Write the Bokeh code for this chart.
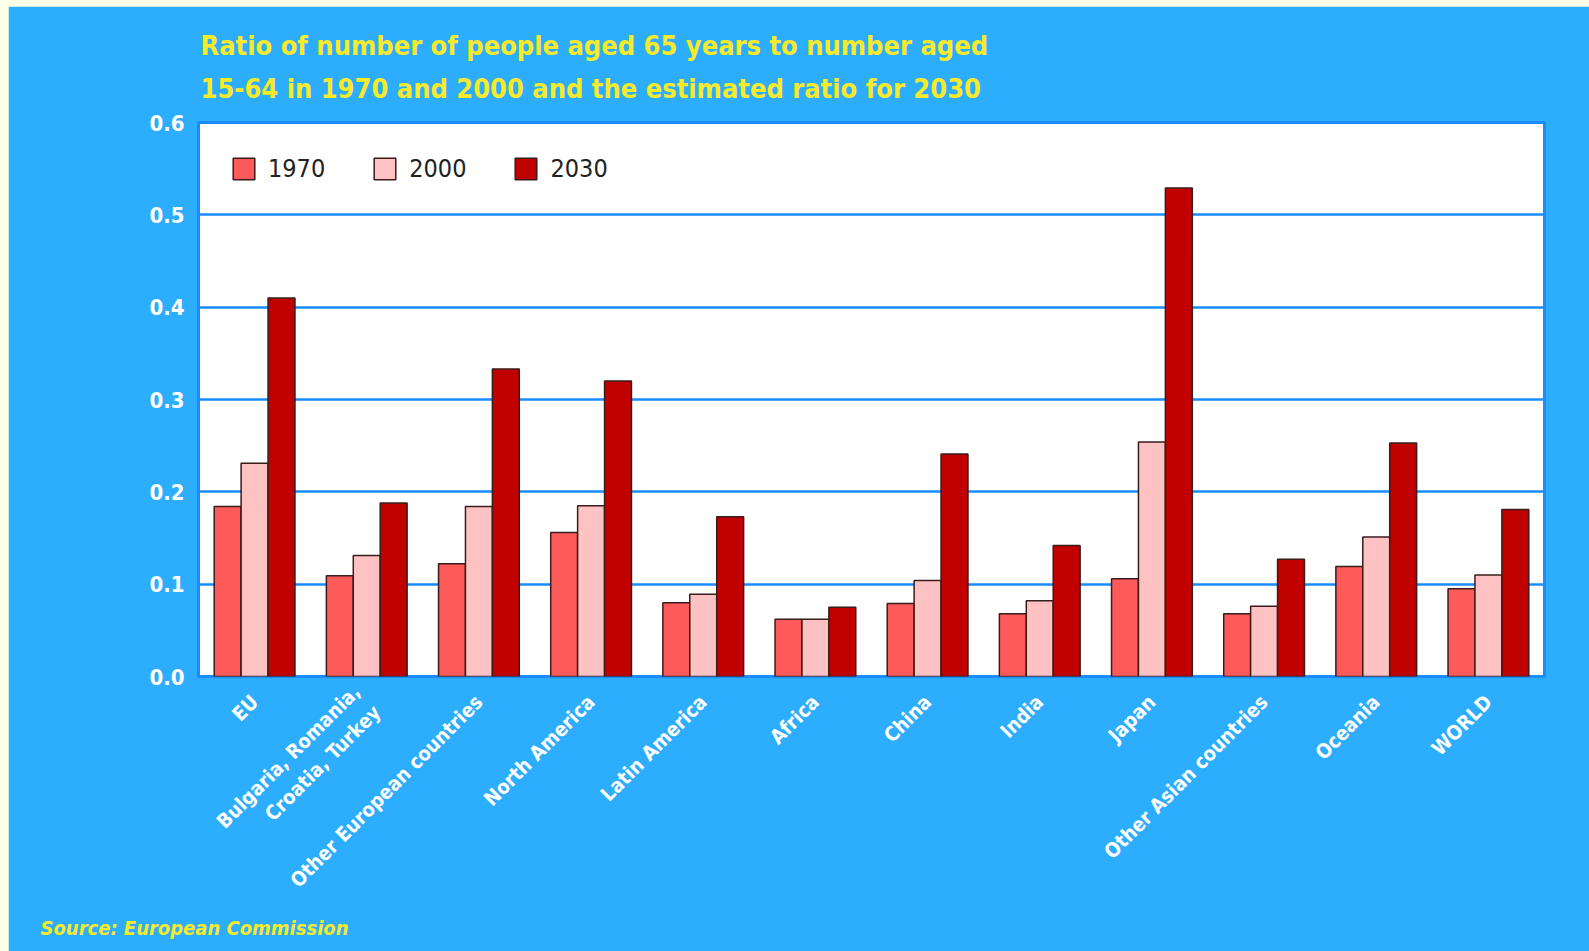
from math import pi

from bokeh.embed import file_html
from bokeh.layouts import column
from bokeh.models import (ColumnDataSource, FactorRange, FixedTicker, Legend,
                          LegendItem, NumeralTickFormatter, Range1d, Title)
from bokeh.plotting import figure
from bokeh.resources import INLINE
from bokeh.transform import dodge

# --- data -----------------------------------------------------------------
regions = [
    "EU",
    "Bulgaria, Romania,\nCroatia, Turkey",
    "Other European countries",
    "North America",
    "Latin America",
    "Africa",
    "China",
    "India",
    "Japan",
    "Other Asian countries",
    "Oceania",
    "WORLD",
]
ratio_1970 = [0.184, 0.109, 0.122, 0.156, 0.080, 0.062, 0.079, 0.068, 0.106, 0.068, 0.119, 0.095]
ratio_2000 = [0.231, 0.131, 0.184, 0.185, 0.089, 0.062, 0.104, 0.082, 0.254, 0.076, 0.151, 0.110]
ratio_2030 = [0.410, 0.188, 0.333, 0.320, 0.173, 0.075, 0.241, 0.142, 0.529, 0.127, 0.253, 0.181]
years = ["1970", "2000", "2030"]
y_ticks = [0.0, 0.1, 0.2, 0.3, 0.4, 0.5, 0.6]

title_text = ("Ratio of number of people aged 65 years to number aged\n"
              "15-64 in 1970 and 2000 and the estimated ratio for 2030")
source_text = "Source: European Commission"

# --- style ----------------------------------------------------------------
BG_BLUE = "#2DADFD"
GRID_BLUE = "#1A8CFF"
YELLOW = "#F7EA2A"
PAGE = "#FFFFE8"
NARROW = "DejaVu Sans Condensed"
BAR_COLORS = ["#FF5A5A", "#FFC2C2", "#C10000"]
BAR_EDGE = "#3A1C1C"

src = ColumnDataSource(dict(region=regions, r1970=ratio_1970, r2000=ratio_2000, r2030=ratio_2030))

p = figure(
    width=1581, height=945,
    x_range=FactorRange(*regions),
    y_range=Range1d(0, 0.6),
    output_backend="svg", toolbar_location=None,
    min_border_left=190, min_border_right=45,
    min_border_top=116, min_border_bottom=275,
)
p.background_fill_color = "white"
p.border_fill_color = BG_BLUE
p.outline_line_color = GRID_BLUE
p.outline_line_width = 3

# title
p.title.text = title_text
p.title.text_color = YELLOW
p.title.text_font = NARROW
p.title.text_font_style = "bold"
p.title.text_font_size = "27px"
p.title.text_line_height = 1.4
p.title.align = "left"
p.title.offset = 2
p.title.standoff = 37

# grouped bars
bar_w = 0.24
renderers = []
for i, (col, color) in enumerate(zip(["r1970", "r2000", "r2030"], BAR_COLORS)):
    r = p.vbar(x=dodge("region", (i - 1) * bar_w, range=p.x_range), top=col, bottom=0,
               width=bar_w, source=src, fill_color=color,
               line_color=BAR_EDGE, line_width=1.5)
    renderers.append(r)

# axes
p.yaxis.ticker = FixedTicker(ticks=y_ticks)
p.yaxis.formatter = NumeralTickFormatter(format="0.0")
for ax in (p.xaxis[0], p.yaxis[0]):
    ax.axis_line_color = None
    ax.major_tick_line_color = None
    ax.minor_tick_line_color = None
    ax.major_label_text_color = "white"
    ax.major_label_text_font = NARROW
    ax.major_label_text_font_style = "bold"
p.yaxis.major_label_text_font_size = "22px"
p.yaxis.major_label_standoff = 8
p.xaxis.major_label_text_font_size = "20px"
p.xaxis.major_label_orientation = pi / 4
p.xaxis.major_label_standoff = 16

# grid
p.xgrid.grid_line_color = None
p.ygrid.ticker = FixedTicker(ticks=y_ticks)
p.ygrid.grid_line_color = GRID_BLUE
p.ygrid.grid_line_width = 2.5

# legend
legend = Legend(
    items=[LegendItem(label=y, renderers=[r]) for y, r in zip(years, renderers)],
    orientation="horizontal", location="top_left",
    margin=32, padding=0, spacing=46,
    glyph_width=27, glyph_height=27, label_standoff=11,
    label_text_font=NARROW, label_text_font_size="25px", label_text_color="#222222",
    border_line_color=None, background_fill_alpha=0,
)
p.add_layout(legend, "center")

# source note under the category labels
p.add_layout(Title(
    text=source_text, align="left", offset=-158, standoff=20,
    text_color=YELLOW, text_font=NARROW, text_font_style="bold italic",
    text_font_size="20px",
), "below")

page = column(p, styles={"background-color": PAGE, "padding-left": "8px", "padding-top": "6px"})

open("out.html", "w").write(file_html(page, INLINE))
